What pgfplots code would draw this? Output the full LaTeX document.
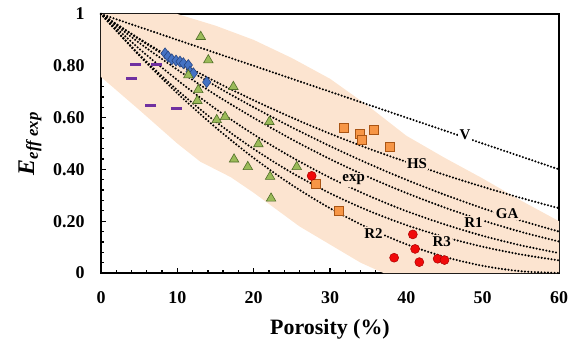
\documentclass[border=0pt]{standalone}
\usepackage{pgfplots}
\pgfplotsset{compat=1.18}
\usepackage{fontspec}
\setmainfont{Liberation Serif}
\definecolor{bandc}{RGB}{252,228,208}
\definecolor{purp}{RGB}{112,48,160}
\definecolor{bluef}{RGB}{68,114,196}
\definecolor{blued}{RGB}{40,70,130}
\definecolor{greenf}{RGB}{155,187,89}
\definecolor{greend}{RGB}{80,110,40}
\definecolor{orangef}{RGB}{247,150,70}
\definecolor{oranged}{RGB}{170,85,20}
\definecolor{redf}{RGB}{240,10,10}
\definecolor{redd}{RGB}{170,0,0}
\tikzset{
  curve/.style={black, line width=2.3bp, dash pattern=on 0pt off 3.3bp, line cap=round, smooth},
  lab/.style={font=\bfseries\fontsize{15}{15}\selectfont, fill=bandc, inner sep=1.5bp},
}
\begin{document}
\begin{tikzpicture}
\useasboundingbox (-101bp,-78bp) rectangle (472bp,273bp);
\begin{axis}[
  at={(0,0)}, anchor=south west,
  scale only axis, width=458bp, height=259bp,
  xmin=0, xmax=60, ymin=0, ymax=1,
  axis line style={line width=1.3bp},
  tick align=inside, tick pos=left,
  xtick={0,10,20,30,40,50,60},
  xticklabels={0,10,20,30,40,50,60},
  ytick={0,0.2,0.4,0.6,0.8,1},
  yticklabels={0,0.20,0.40,0.60,0.80,1},
  minor x tick num=4, minor y tick num=4,
  major tick length=5bp, minor tick length=3.5bp,
  every tick/.style={black, line width=1.3bp},
  /pgf/number format/assume math mode=true,
  ticklabel style={font=\bfseries\fontsize{18}{18}\selectfont},
  yticklabel style={xshift=-13bp},
  xticklabel style={yshift=-15bp},
  xlabel={Porosity (\%)},
  xlabel style={font=\bfseries\fontsize{22}{22}\selectfont, at={(axis description cs:0.5,-0.239)}, anchor=base},
  ylabel={\itshape\bfseries E\textsubscript{eff exp}},
  ylabel style={font=\fontsize{24}{24}\selectfont, at={(axis description cs:-0.155,0.5)}, anchor=center},
  clip=false,
]
% shaded band
\addplot[fill=bandc, draw=none] coordinates {
 (0,1) (10,1) (15,0.955) (20,0.9) (25,0.83) (30,0.75) (35,0.645) (40,0.53) (45,0.445) (50,0.365) (55,0.28) (60,0.2)
 (60,0) (37,0) (34,0.04) (30,0.11) (26,0.18) (23,0.245) (20,0.31) (17,0.37) (13,0.43) (10,0.50) (5,0.63) (0,0.757)
} -- cycle;
% V
\addplot[curve] coordinates {(0,1) (5,0.95) (10,0.9) (15,0.85) (20,0.8) (25,0.75) (30,0.7) (35,0.65) (40,0.6) (45,0.55) (50,0.5) (55,0.45) (60,0.4)};
% HS
\addplot[curve] coordinates {(0,1) (5,0.905) (10,0.818) (15,0.739) (20,0.667) (25,0.6) (30,0.538) (35,0.481) (40,0.429) (45,0.379) (50,0.333) (55,0.290) (60,0.25)};
% GA
\addplot[curve] coordinates {(0,1) (5,0.9025) (10,0.81) (15,0.7225) (20,0.64) (25,0.5625) (30,0.49) (35,0.4225) (40,0.36) (45,0.3025) (50,0.25) (55,0.2025) (60,0.16)};
% R1
\addplot[curve] coordinates {(0,1) (5,0.889) (10,0.785) (15,0.688) (20,0.599) (25,0.516) (30,0.440) (35,0.371) (40,0.309) (45,0.253) (50,0.203) (55,0.159) (60,0.1215)};
% exp
\addplot[curve] coordinates {(0,1) (5,0.866) (10,0.745) (15,0.634) (20,0.535) (25,0.447) (30,0.368) (35,0.299) (40,0.239) (45,0.188) (50,0.1436) (55,0.1069) (60,0.0769)};
% R3
\addplot[curve] coordinates {(0,1) (5,0.844) (10,0.706) (15,0.585) (20,0.479) (25,0.387) (30,0.308) (35,0.241) (40,0.185) (45,0.139) (50,0.1015) (55,0.0717) (60,0.0486)};
% R2
\addplot[curve] coordinates {(0,1) (5,0.840) (10,0.694) (15,0.5625) (20,0.444) (25,0.340) (30,0.25) (35,0.174) (40,0.111) (45,0.0625) (50,0.0278) (55,0.0069) (60,0)};
% curve labels
\node[lab, fill=white] at (axis cs:47.7,0.533) {V};
\node[lab] at (axis cs:41.4,0.423) {HS};
\node[lab] at (axis cs:33.1,0.359) {exp};
\node[lab] at (axis cs:53.2,0.23) {GA};
\node[lab] at (axis cs:48.8,0.195) {R1};
\node[lab] at (axis cs:44.65,0.121) {R3};
\node[lab] at (axis cs:35.7,0.153) {R2};
% purple dashes
\addplot[only marks, mark=-, mark size=5.5bp, purp, mark options={line width=3bp}] coordinates {
 (4.46,0.806) (7.30,0.806) (4.02,0.752) (6.50,0.645) (9.83,0.634)};
% blue diamonds
\addplot[only marks, mark=diamond*, mark size=5.5bp, mark options={fill=bluef, draw=blued, line width=0.6bp}] coordinates {
 (8.39,0.848) (8.78,0.836) (9.27,0.825) (9.83,0.820) (10.35,0.816) (10.79,0.810) (11.44,0.803) (11.66,0.777) (12.1,0.771) (13.85,0.737)};
% green triangles
\addplot[only marks, mark=triangle*, mark size=5.5bp, mark options={fill=greenf, draw=greend, line width=0.6bp}] coordinates {
 (13.07,0.912) (14.06,0.822) (11.44,0.764) (12.75,0.707) (12.62,0.665) (17.34,0.719) (15.16,0.591) (16.25,0.603) (22.06,0.584) (20.62,0.498) (17.43,0.439) (19.23,0.410) (25.64,0.410) (22.15,0.372) (22.28,0.288)};
% orange squares
\addplot[only marks, mark=square*, mark size=4.5bp, mark options={fill=orangef, draw=oranged, line width=0.6bp}] coordinates {
 (31.76,0.562) (33.94,0.539) (35.69,0.552) (34.17,0.514) (37.88,0.488) (28.18,0.344) (31.1,0.242)};
% red circles
\addplot[only marks, mark=*, mark size=4.5bp, mark options={fill=redf, draw=redd, line width=0.5bp}] coordinates {
 (27.6,0.375) (40.85,0.149) (41.15,0.093) (38.4,0.059) (41.7,0.042) (44.1,0.055) (45.0,0.050)};
\end{axis}
\end{tikzpicture}
\end{document}
